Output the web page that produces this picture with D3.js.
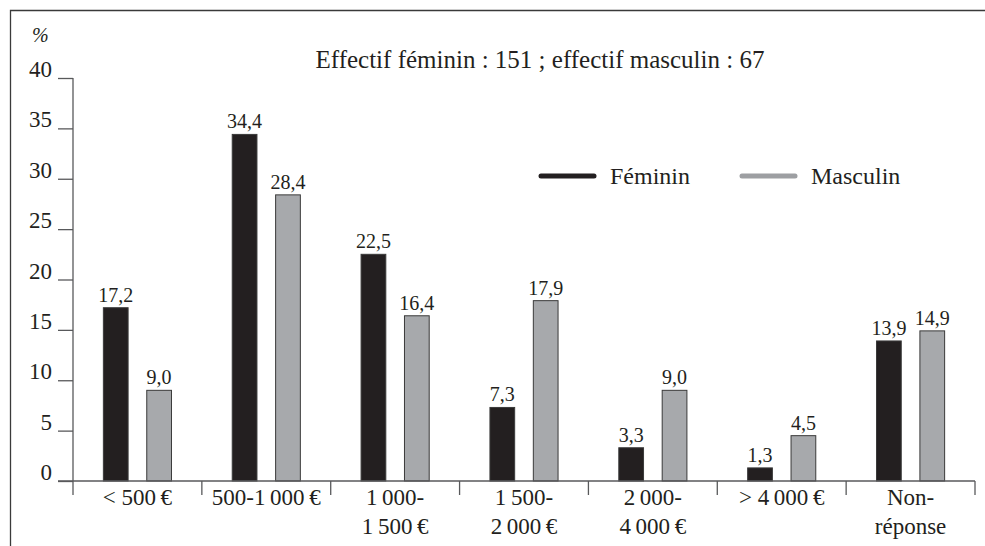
<!DOCTYPE html>
<html>
<head>
<meta charset="utf-8">
<script src="https://cdn.jsdelivr.net/npm/d3@7"></script>
<style>
  body { margin: 0; background: #fff; }
  text { font-family: "Liberation Serif", "Times New Roman", serif; fill: #231f20; }
</style>
</head>
<body>
<svg class="chart"></svg>
<script>
// revenus par sexe, en %
var categories = [["< 500\u2009€"], ["500-1\u2009000\u2009€"], ["1\u2009000-", "1\u2009500\u2009€"],
                  ["1\u2009500-", "2\u2009000\u2009€"], ["2\u2009000-", "4\u2009000\u2009€"],
                  ["> 4\u2009000\u2009€"], ["Non-", "réponse"]];
var feminin = [17.2, 34.4, 22.5, 7.3, 3.3, 1.3, 13.9];
var masculin = [9.0, 28.4, 16.4, 17.9, 9.0, 4.5, 14.9];
var series = ["Féminin", "Masculin"];
var yTicks = [0, 5, 10, 15, 20, 25, 30, 35, 40];
var title = "Effectif féminin : 151 ; effectif masculin : 67";

var width = 985;
var height = 546;
var colors = {"Féminin": "#231f20", "Masculin": "#a7a9ac"};
var legendColors = {"Féminin": "#231f20", "Masculin": "#9d9fa2"};

var svg = d3.select(".chart")
            .attr("width", width)
            .attr("height", height);

var x = d3.scaleBand()
            .domain(d3.range(categories.length))
            .range([73, 975]);

var xs = d3.scaleBand()
            .domain(series)
            .range([0, x.bandwidth()])
            .paddingInner(0.43)
            .paddingOuter(0.7);

var y = d3.scaleLinear()
            .domain([0, 40])
            .range([481, 78]);

// cadre
svg.append("path")
    .attr("d", "M10.5," + height + "V10.5H" + width)
    .attr("fill", "none")
    .attr("stroke", "#3a3a3a")
    .attr("stroke-width", 1.3);

var rows = categories.map(function(c, i) {
    return [{s: "Féminin", v: feminin[i], i: i}, {s: "Masculin", v: masculin[i], i: i}];
});
var bars = [].concat.apply([], rows);

svg.selectAll("rect.bar")
    .data(bars)
    .enter()
    .append("rect")
    .attr("class", "bar")
    .attr("x", function(d) { return x(d.i) + xs(d.s); })
    .attr("y", function(d) { return y(d.v); })
    .attr("width", xs.bandwidth())
    .attr("height", function(d) { return y(0) - y(d.v); })
    .attr("fill", function(d) { return colors[d.s]; })
    .attr("stroke", "#3a3a3a")
    .attr("stroke-width", 1);

svg.selectAll("text.val")
    .data(bars)
    .enter()
    .append("text")
    .attr("class", "val")
    .attr("x", function(d) { return x(d.i) + xs(d.s) + xs.bandwidth() / 2; })
    .attr("y", function(d) { return y(d.v) - 6; })
    .attr("text-anchor", "middle")
    .style("font-size", "20px")
    .text(function(d) { return d.v.toFixed(1).replace(".", ","); });

// axe y
var yAxis = d3.axisLeft(y)
                .tickValues(yTicks)
                .tickSize(15)
                .tickFormat("");

var gy = svg.append("g")
    .attr("transform", "translate(73,0)")
    .call(yAxis);
gy.select(".domain").remove();
gy.selectAll("line").attr("stroke", "#58595b").attr("stroke-width", 1.3);

svg.append("line")
    .attr("x1", 73).attr("x2", 73)
    .attr("y1", y(40)).attr("y2", 495)
    .attr("stroke", "#58595b")
    .attr("stroke-width", 1.3);

svg.selectAll("text.ytick")
    .data(yTicks)
    .enter()
    .append("text")
    .attr("class", "ytick")
    .attr("x", 52)
    .attr("y", function(d) { return y(d) - 1; })
    .attr("text-anchor", "end")
    .style("font-size", "23px")
    .text(function(d) { return d; });

svg.append("text")
    .attr("x", 32)
    .attr("y", 42)
    .style("font-size", "20px")
    .style("font-style", "italic")
    .text("%");

// axe x
svg.append("line")
    .attr("x1", 58).attr("x2", 975)
    .attr("y1", y(0)).attr("y2", y(0))
    .attr("stroke", "#58595b")
    .attr("stroke-width", 1.5);

var seps = d3.range(1, categories.length + 1).map(function(i) {
    return i < categories.length ? x(i) : x.range()[1];
});
svg.selectAll("line.sep")
    .data(seps)
    .enter()
    .append("line")
    .attr("class", "sep")
    .attr("x1", function(d) { return d; })
    .attr("x2", function(d) { return d; })
    .attr("y1", y(0))
    .attr("y2", 495)
    .attr("stroke", "#58595b")
    .attr("stroke-width", 1.3);

var xl = svg.selectAll("text.xlab")
    .data(categories)
    .enter()
    .append("text")
    .attr("class", "xlab")
    .attr("text-anchor", "middle")
    .style("font-size", "23px");
xl.selectAll("tspan")
    .data(function(d, i) { return d.map(function(t) { return {t: t, i: i}; }); })
    .enter()
    .append("tspan")
    .attr("x", function(d) { return x(d.i) + x.bandwidth() / 2; })
    .attr("y", function(d, j) { return 505 + j * 29; })
    .text(function(d) { return d.t; });

// titre
svg.append("text")
    .attr("x", 540)
    .attr("y", 68)
    .attr("text-anchor", "middle")
    .style("font-size", "25px")
    .text(title);

// légende
var legendX = [541, 742];
var leg = svg.selectAll("g.leg")
    .data(series)
    .enter()
    .append("g")
    .attr("class", "leg")
    .attr("transform", function(d, i) { return "translate(" + legendX[i] + ",176)"; });
leg.append("line")
    .attr("x1", 0).attr("x2", 53)
    .attr("stroke", function(d) { return legendColors[d]; })
    .attr("stroke-width", 5)
    .attr("stroke-linecap", "round");
leg.append("text")
    .attr("x", 69)
    .attr("y", 8)
    .style("font-size", "24px")
    .text(function(d) { return d; });
</script>
</body>
</html>
